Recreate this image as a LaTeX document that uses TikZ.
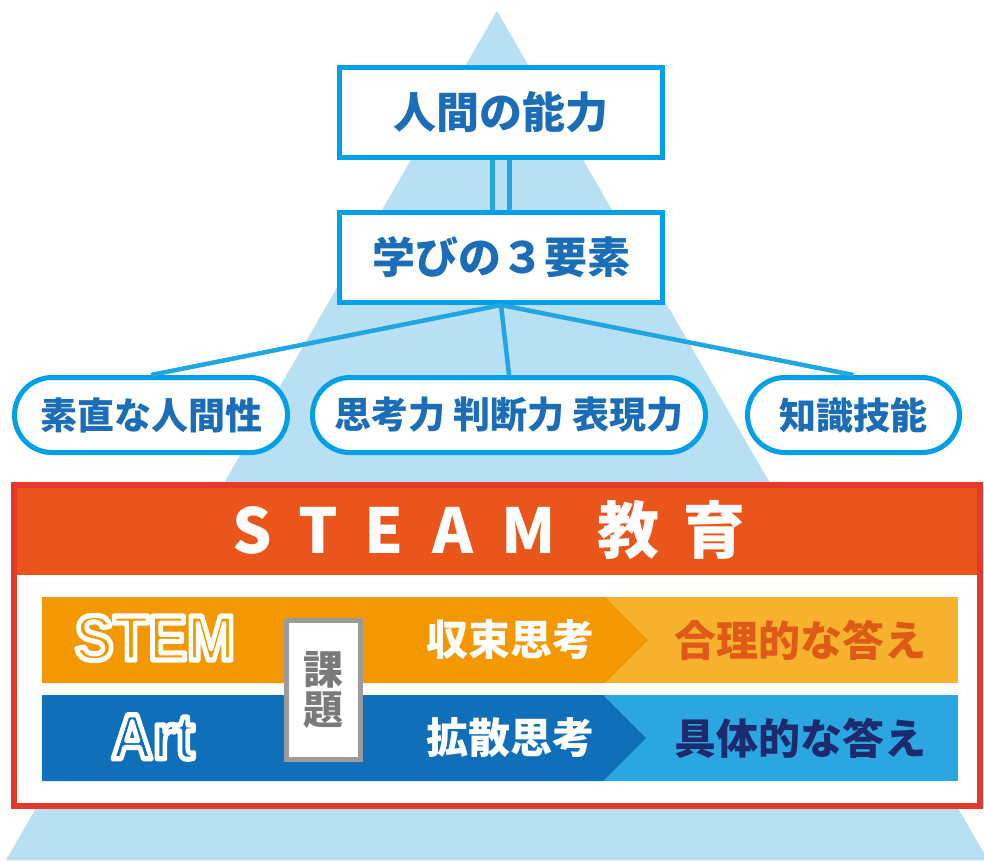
\documentclass[tikz,border=0pt]{standalone}
\usepackage{fontspec}
\setmainfont{Noto Sans CJK JP}
\newfontfamily\latinfont{Liberation Sans}[FakeBold=8]
\usetikzlibrary{shapes.misc}
\definecolor{pyramid}{HTML}{B8E0F2}
\definecolor{frameblue}{HTML}{00A0E9}
\definecolor{lineblue}{HTML}{22A6E3}
\definecolor{textblue}{HTML}{1B6DB7}
\definecolor{steamor}{HTML}{E9551A}
\definecolor{steamred}{HTML}{E5392C}
\definecolor{stemdark}{HTML}{F39800}
\definecolor{stemlight}{HTML}{F6B22D}
\definecolor{artdark}{HTML}{0F6FB8}
\definecolor{artlight}{HTML}{2AA6E0}
\definecolor{logicred}{HTML}{DF5A16}
\definecolor{navyink}{HTML}{1D2A6D}
\definecolor{taskgray}{HTML}{9B9B9B}
\definecolor{taskink}{HTML}{7A7A7A}
\newcommand\whiteedge[2]{\textcolor{#1}{\special{pdf:literal direct 1 1 1 RG 1 j}#2}}
\tikzset{
  topbox/.style={draw=frameblue, line width=5pt, fill=white, inner sep=0pt,
    minimum width=323pt, minimum height=90pt, text=textblue,
    font=\fontsize{43}{50}\selectfont\bfseries},
  pillbox/.style={rounded rectangle, draw=frameblue, line width=5pt, fill=white,
    inner sep=0pt, minimum height=75pt, text=textblue,
    font=\fontsize{37}{44}\selectfont\bfseries},
  link/.style={draw=lineblue, line width=4.5pt},
  steamchar/.style={text=white, inner sep=0pt, font=\fontsize{62}{70}\selectfont\bfseries},
  barlabel/.style={inner sep=0pt, font=\fontsize{42}{50}\selectfont\bfseries},
  hollow/.style={inner sep=0pt, xscale=0.9, font=\latinfont\fontsize{64}{70}\selectfont\bfseries}
}
\begin{document}
\begin{tikzpicture}[x=1pt,y=-1pt]
  \useasboundingbox (0,0) rectangle (984,860);
  \fill[pyramid] (497,11) -- (988,860) -- (6,860) -- cycle;

  \node[topbox] (ability) at (501,112.5) {人間の能力};
  \node[topbox] (three) at (501,257.5) {学びの３要素};
  \node[pillbox, minimum width=273pt] (honest) at (151,415) {素直な人間性};
  \node[pillbox, minimum width=393pt] (thinking) at (509,415) {思考力 判断力 表現力};
  \node[pillbox, minimum width=212pt] (knowledge) at (853.5,415) {知識技能};
  \begin{scope}[link]
    \draw ([xshift=-8.5pt]ability.south) -- ([xshift=-8.5pt]three.north);
    \draw ([xshift=8.5pt]ability.south) -- ([xshift=8.5pt]three.north);
    \draw (three.south) -- (honest.north);
    \draw (three.south) -- (thinking.north);
    \draw (three.south) -- (knowledge.north);
  \end{scope}

  \node[fill=white, inner sep=0pt, minimum width=966pt, minimum height=321pt] (frame) at (497,645.5) {};
  \node[fill=steamor, inner sep=0pt, minimum width=966pt, minimum height=90pt, anchor=north] (band) at (frame.north) {};
  \draw[steamred, line width=6pt] (frame.north west) rectangle (frame.south east);
  \foreach \ch/\x [count=\i] in {S/252.5,T/318,E/384.5,A/453,M/528.5,教/628.5,育/714.5}
    \node[steamchar] (steam\i) at (\x,530) {\ch};

  \fill[stemlight] (42,597) rectangle (958,683);
  \fill[stemdark] (42,597) -- (605,597) -- (648,640) -- (605,683) -- (42,683) -- cycle;
  \fill[artlight] (42,695) rectangle (958,781);
  \fill[artdark] (42,695) -- (603,695) -- (646,738) -- (603,781) -- (42,781) -- cycle;

  \node[hollow] (stem) at (155,638) {\whiteedge{stemdark}{STEM}};
  \node[hollow] (art) at (153,737) {\whiteedge{artdark}{Art}};
  \node[draw=taskgray, line width=5pt, fill=white, inner sep=0pt, minimum width=74pt,
    minimum height=139pt, text=taskink, align=center,
    font=\fontsize{40}{40}\selectfont\bfseries] (task) at (323.5,690) {課\\題};
  \node[barlabel, text=white] (converge) at (510,640) {収束思考};
  \node[barlabel, text=white] (diverge) at (510,738) {拡散思考};
  \node[barlabel, text=logicred] (logical) at (800,640) {合理的な答え};
  \node[barlabel, text=navyink] (concrete) at (800,738) {具体的な答え};
\end{tikzpicture}
\end{document}
